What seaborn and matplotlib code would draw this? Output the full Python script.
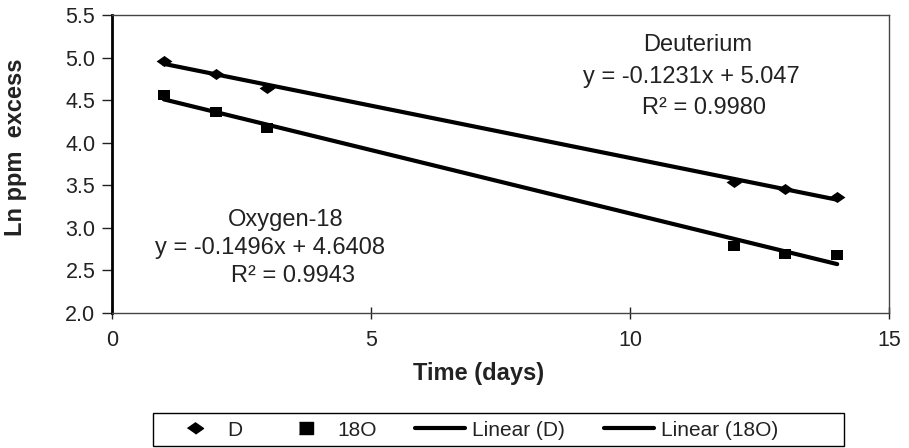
import matplotlib
matplotlib.use("Agg")
import matplotlib.pyplot as plt
import seaborn as sns
import pandas as pd
from matplotlib.lines import Line2D
from matplotlib.patches import Rectangle

sns.set_style("white")
plt.rcParams['font.family'] = ['Liberation Sans', 'DejaVu Sans']

days = [1, 2, 3, 12, 13, 14]
deut = [4.96, 4.81, 4.64, 3.54, 3.46, 3.36]
oxy = [4.56, 4.36, 4.17, 2.79, 2.69, 2.68]
x_ticks = [0, 5, 10, 15]
y_ticks = [2.0, 2.5, 3.0, 3.5, 4.0, 4.5, 5.0, 5.5]

df = pd.DataFrame({"days": days, "D": deut, "O": oxy})

DIAMOND = [(-1, 0), (0, 0.7), (1, 0), (0, -0.7)]
SQUARE = [(-1, -0.85), (1, -0.85), (1, 0.85), (-1, 0.85)]
W, H = 909, 448

fig = plt.figure(figsize=(9.09, 4.48), dpi=100)
ax = fig.add_axes([112 / W, 1 - 313 / H, 777 / W, 298 / H])

sns.regplot(data=df, x="days", y="D", scatter=False, ci=None, ax=ax,
            line_kws=dict(color="black", lw=3))
sns.regplot(data=df, x="days", y="O", scatter=False, ci=None, ax=ax,
            line_kws=dict(color="black", lw=3))
sns.scatterplot(data=df, x="days", y="D", marker=DIAMOND, s=130, color="black",
                edgecolor="black", linewidth=0, ax=ax, zorder=3)
sns.scatterplot(data=df, x="days", y="O", marker=SQUARE, s=80, color="black",
                edgecolor="black", linewidth=0, ax=ax, zorder=3)

ax.set_xlim(0, 15)
ax.set_ylim(2.0, 5.5)
ax.set_xticks(x_ticks)
ax.set_yticks(y_ticks)
ax.set_yticklabels([f"{v:.1f}" for v in y_ticks])
ax.tick_params(axis="both", labelsize=15.5, colors="#222222", width=1,
               left=True, bottom=True)
ax.tick_params(axis="x", direction="inout", length=8, pad=8)
ax.tick_params(axis="y", direction="out", length=7, pad=5)
for side in ["top", "right", "bottom"]:
    ax.spines[side].set_color("#444444")
    ax.spines[side].set_linewidth(1)
ax.spines["left"].set_color("black")
ax.spines["left"].set_linewidth(2)

ax.set_xlabel("Time (days)", fontsize=17, fontweight="bold", color="#222222")
ax.set_ylabel("Ln ppm  excess", fontsize=17, fontweight="bold", color="#222222")
ax.xaxis.set_label_coords(0.472, (313 - 362) / 298)
ax.yaxis.set_label_coords((27 - 112) / 777, (313 - 147) / 298)

fs = 17
tc = "#222222"
ax.text(11.31, 5.147, "Deuterium", ha="center", va="center", fontsize=fs, color=tc)
ax.text(11.18, 4.77, "y = -0.1231x + 5.047", ha="center", va="center", fontsize=fs, color=tc)
ax.text(11.43, 4.41, "R² = 0.9980", ha="center", va="center", fontsize=fs, color=tc)

ax.text(3.36, 3.09, "Oxygen-18", ha="center", va="center", fontsize=fs, color=tc)
ax.text(3.05, 2.76, "y = -0.1496x + 4.6408", ha="center", va="center", fontsize=fs, color=tc)
ax.text(3.49, 2.44, "R² = 0.9943", ha="center", va="center", fontsize=fs, color=tc)

handles = [
    Line2D([], [], marker=DIAMOND, color="black", ls="none", markersize=11.5),
    Line2D([], [], marker=SQUARE, color="black", ls="none", markersize=9.5),
    Line2D([], [], color="black", lw=3),
    Line2D([], [], color="black", lw=3),
]
labels = ["D", "18O", "Linear (D)", "Linear (18O)"]
leg = fig.legend(handles, labels, loc="center left",
                 bbox_to_anchor=(170 / W, 1 - 430 / H),
                 ncol=4, fontsize=15, frameon=False,
                 handlelength=2.4, columnspacing=1.85,
                 handletextpad=0.33, borderpad=0, borderaxespad=0)
for t in leg.get_texts():
    t.set_color("#222222")

fig.patches.append(Rectangle((153 / W, 1 - 446 / H), 691 / W, 33 / H,
                             transform=fig.transFigure, fill=False,
                             edgecolor="black", linewidth=1))

fig.savefig("out.png", dpi=100)
